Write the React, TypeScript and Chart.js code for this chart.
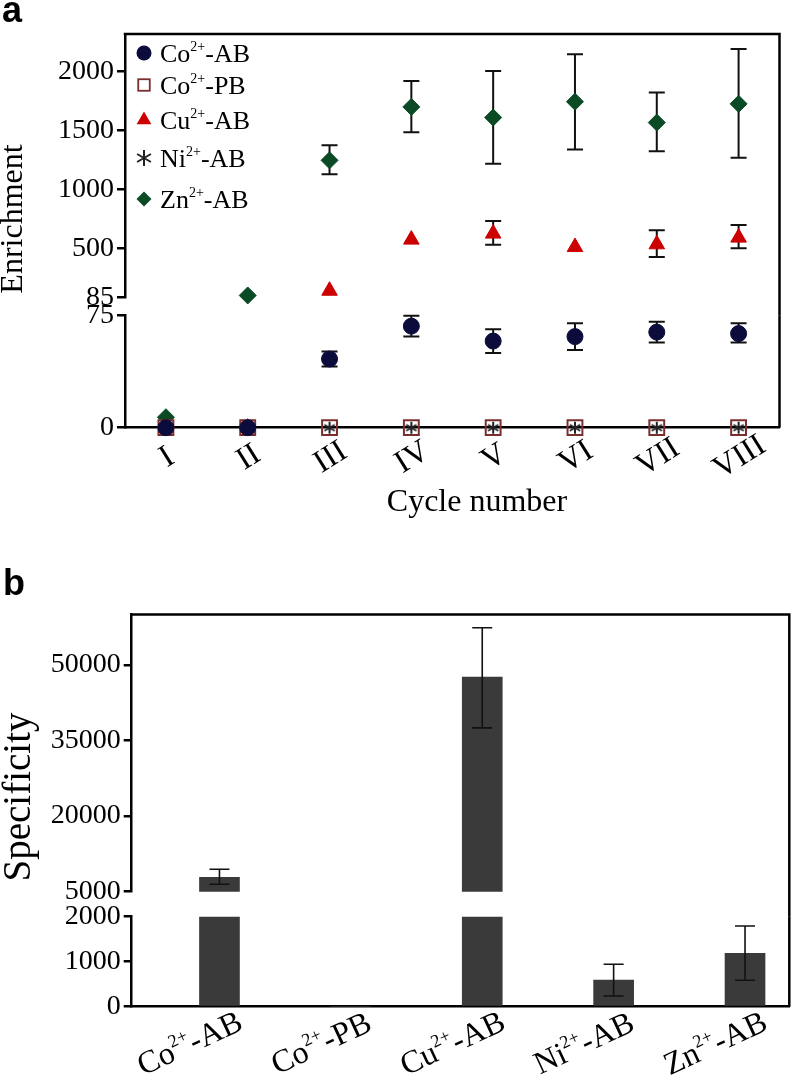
import React, { useEffect, useRef } from 'react';
import { Chart, registerables } from 'chart.js';

Chart.register(...registerables);

// ---------------- DATA ----------------
const CYCLES = ['I', 'II', 'III', 'IV', 'V', 'VI', 'VII', 'VIII'];
const SERIES_NAMES = ['Co2+-AB', 'Co2+-PB', 'Cu2+-AB', 'Ni2+-AB', 'Zn2+-AB'];

const CO_AB = [0, 0, 46, 68, 58, 61, 64, 63];
const CO_AB_LO = [null, null, 41, 61, 50, 52, 57, 57];
const CO_AB_HI = [null, null, 51, 75, 66, 70, 71, 70];
const CO_PB = [0, 0, 0, 0, 0, 0, 0, 0];
const CU_AB = [0, 0, 140, 574, 625, 511, 534, 591];
const CU_AB_LO = [null, null, null, null, 531, null, 426, 500];
const CU_AB_HI = [null, null, null, null, 733, null, 653, 698];
const NI_AB = [0, 0, 0, 0, 0, 0, 0, 0];
const ZN_AB = [7, 100, 1247, 1701, 1611, 1745, 1568, 1727];
const ZN_AB_LO = [null, null, 1128, 1485, 1219, 1340, 1324, 1270];
const ZN_AB_HI = [null, null, 1375, 1920, 2005, 2147, 1824, 2193];

const A_UPPER_TICKS = [85, 500, 1000, 1500, 2000];
const A_LOWER_TICKS = [0, 75];
const A_UPPER_RANGE = [85, 2320];
const A_LOWER_RANGE = [0, 75];

const PROBES = ['Co2+-AB', 'Co2+-PB', 'Cu2+-AB', 'Ni2+-AB', 'Zn2+-AB'];
const SPECIFICITY = [7850, 0, 47570, 593, 1187];
const SPEC_LO = [6470, null, 37500, 238, 587];
const SPEC_HI = [9440, null, 57360, 942, 1793];

const B_UPPER_TICKS = [5000, 20000, 35000, 50000];
const B_LOWER_TICKS = [0, 1000, 2000];
const B_UPPER_RANGE = [5000, 60000];
const B_LOWER_RANGE = [0, 2000];

// ---------------- STYLE ----------------
const SERIF = '"Liberation Serif", "Times New Roman", serif';
const SANS = '"Liberation Sans", Arial, sans-serif';
const W = 792;

type St = { color: string; style: string; radius: number; fill: boolean };
const STYLES: St[] = [
  { color: '#0c0c3c', style: 'circle', radius: 8, fill: true },
  { color: '#7a2e2e', style: 'rect', radius: 10.5, fill: false },
  { color: '#cc0000', style: 'triangle', radius: 9, fill: true },
  { color: '#222222', style: 'asterisk', radius: 6, fill: false },
  { color: '#0a4a24', style: 'rectRot', radius: 8.5, fill: true },
];

function drawMarker(ctx: CanvasRenderingContext2D, st: St, x: number, y: number, r: number) {
  ctx.save();
  ctx.fillStyle = st.color;
  ctx.strokeStyle = st.color;
  ctx.beginPath();
  switch (st.style) {
    case 'circle':
      ctx.arc(x, y, r, 0, Math.PI * 2);
      ctx.fill();
      break;
    case 'rect':
      ctx.lineWidth = 1.8;
      ctx.strokeRect(x - r * 0.72, y - r * 0.72, r * 1.44, r * 1.44);
      break;
    case 'triangle':
      ctx.moveTo(x, y - r);
      ctx.lineTo(x + r * 0.866, y + r * 0.5);
      ctx.lineTo(x - r * 0.866, y + r * 0.5);
      ctx.closePath();
      ctx.fill();
      break;
    case 'rectRot':
      ctx.moveTo(x, y - r);
      ctx.lineTo(x + r, y);
      ctx.lineTo(x, y + r);
      ctx.lineTo(x - r, y);
      ctx.closePath();
      ctx.fill();
      break;
    case 'asterisk':
      ctx.lineWidth = 2;
      for (let k = 0; k < 3; k++) {
        const a = Math.PI / 2 + (k * Math.PI) / 3;
        ctx.moveTo(x - r * Math.cos(a), y - r * Math.sin(a));
        ctx.lineTo(x + r * Math.cos(a), y + r * Math.sin(a));
      }
      ctx.stroke();
      break;
  }
  ctx.restore();
}

function makeAsterisk(st: St) {
  const c = document.createElement('canvas');
  const s = Math.ceil(st.radius * 2 + 4);
  c.width = s;
  c.height = s;
  const ctx = c.getContext('2d') as CanvasRenderingContext2D;
  drawMarker(ctx, st, s / 2, s / 2, st.radius);
  return c;
}

function splitSup(t: string) {
  const m = /^([A-Za-z]+)(\d\+)(.*)$/.exec(t);
  return m ? [m[1], m[2], m[3]] : [t, '', ''];
}
function richWidth(ctx: CanvasRenderingContext2D, t: string, size: number) {
  const [a, s, b] = splitSup(t);
  ctx.font = `${size}px ${SERIF}`;
  const w1 = ctx.measureText(a).width + ctx.measureText(b).width;
  ctx.font = `${Math.round(size * 0.55)}px ${SERIF}`;
  return w1 + ctx.measureText(s).width;
}
function drawRich(ctx: CanvasRenderingContext2D, t: string, x: number, base: number, size: number) {
  const [a, s, b] = splitSup(t);
  ctx.fillStyle = '#000';
  ctx.textAlign = 'left';
  ctx.textBaseline = 'alphabetic';
  ctx.font = `${size}px ${SERIF}`;
  ctx.fillText(a, x, base);
  let cx = x + ctx.measureText(a).width;
  ctx.font = `${Math.round(size * 0.55)}px ${SERIF}`;
  ctx.fillText(s, cx, base - size * 0.42);
  cx += ctx.measureText(s).width;
  ctx.font = `${size}px ${SERIF}`;
  ctx.fillText(b, cx, base);
}

// ---------------- PLUGINS ----------------
const framePlugin = {
  id: 'frame',
  afterDraw(chart: any, _a: any, opts: any) {
    if (!opts || !opts.enabled) return;
    const { ctx, chartArea: a } = chart;
    ctx.save();
    ctx.strokeStyle = '#000';
    ctx.lineWidth = 2.5;
    ctx.beginPath();
    if (opts.top) {
      ctx.moveTo(a.left - 1.25, a.top);
      ctx.lineTo(a.right + 1.25, a.top);
    }
    ctx.moveTo(a.right, a.top);
    ctx.lineTo(a.right, a.bottom + (opts.extend || 0));
    ctx.stroke();
    ctx.restore();
  },
};

function drawErrors(chart: any, opts: any) {
  const { ctx } = chart;
  const xs = chart.scales.x;
  const ys = chart.scales.y;
  ctx.save();
  ctx.strokeStyle = '#111';
  ctx.lineWidth = opts.width || 2;
  chart.data.datasets.forEach((ds: any) => {
    const lo = ds.errLo;
    const hi = ds.errHi;
    if (!lo) return;
    ds.data.forEach((d: any, i: number) => {
      const v = d !== null && typeof d === 'object' ? d.y : d;
      if (v === null || v === undefined || lo[i] === null || hi[i] === null) return;
      const xv = d !== null && typeof d === 'object' ? d.x : i;
      const px = xs.getPixelForValue(xv);
      const yl = ys.getPixelForValue(lo[i]);
      const yh = ys.getPixelForValue(hi[i]);
      const c = opts.cap || 8;
      ctx.beginPath();
      ctx.moveTo(px, yl);
      ctx.lineTo(px, yh);
      ctx.moveTo(px - c, yl);
      ctx.lineTo(px + c, yl);
      ctx.moveTo(px - c, yh);
      ctx.lineTo(px + c, yh);
      ctx.stroke();
    });
  });
  ctx.restore();
}

const errPlugin = {
  id: 'errbars',
  beforeDatasetsDraw(chart: any, _a: any, opts: any) {
    if (opts && opts.phase === 'before') drawErrors(chart, opts);
  },
  afterDatasetsDraw(chart: any, _a: any, opts: any) {
    if (opts && opts.phase === 'after') drawErrors(chart, opts);
  },
};

const decorPlugin = {
  id: 'decor',
  afterDraw(chart: any, _a: any, opts: any) {
    if (!opts) return;
    const ctx: CanvasRenderingContext2D = chart.ctx;
    (opts.texts || []).forEach((t: any) => {
      ctx.save();
      ctx.translate(t.x, t.y);
      ctx.rotate(((t.rot || 0) * Math.PI) / 180);
      ctx.font = t.font;
      ctx.fillStyle = '#000';
      ctx.textAlign = t.align || 'center';
      ctx.textBaseline = t.baseline || 'middle';
      ctx.fillText(t.text, 0, 0);
      ctx.restore();
    });
    if (opts.xlabels) {
      const { labels, dx, dy, rot, size, values } = opts.xlabels;
      labels.forEach((lab: string, i: number) => {
        const px = chart.scales.x.getPixelForValue(values ? values[i] : i) + dx;
        const py = chart.chartArea.bottom + dy;
        ctx.save();
        ctx.translate(px, py);
        ctx.rotate((rot * Math.PI) / 180);
        const w = richWidth(ctx, lab, size);
        drawRich(ctx, lab, -w / 2, size * 0.33, size);
        ctx.restore();
      });
    }
    if (opts.legend) {
      const { items, rows, mx, tx, size, radii } = opts.legend;
      items.forEach((name: string, i: number) => {
        drawMarker(ctx, STYLES[i], mx, rows[i], radii[i]);
        ctx.save();
        drawRich(ctx, name, tx, rows[i] + size * 0.33, size);
        ctx.restore();
      });
    }
  },
};

// ---------------- CONFIG HELPERS ----------------
function yAxis(range: number[], ticks: number[], width: number) {
  return {
    type: 'linear',
    min: range[0],
    max: range[1],
    afterBuildTicks: (s: any) => {
      s.ticks = ticks.map((v) => ({ value: v }));
    },
    afterFit: (s: any) => {
      s.width = width;
    },
    ticks: {
      callback: (v: any) => String(v),
      color: '#000',
      font: { family: SERIF, size: 28 },
      padding: 3,
    },
    grid: {
      display: true,
      drawOnChartArea: false,
      drawTicks: true,
      tickLength: 8,
      color: '#000',
      lineWidth: 2.5,
    },
    border: { display: true, color: '#000', width: 2.5 },
  };
}

function panelAConfig(upper: boolean, asterisk: HTMLCanvasElement) {
  const range = upper ? A_UPPER_RANGE : A_LOWER_RANGE;
  const inRange = (v: number) => v >= range[0] && v <= range[1];
  const series = [
    [CO_AB, CO_AB_LO, CO_AB_HI],
    [CO_PB, null, null],
    [CU_AB, CU_AB_LO, CU_AB_HI],
    [NI_AB, null, null],
    [ZN_AB, ZN_AB_LO, ZN_AB_HI],
  ];
  const datasets = series.map(([vals, lo, hi]: any, i) => {
    const st = STYLES[i];
    return {
      label: SERIES_NAMES[i],
      data: vals.map((v: number) => (inRange(v) ? v : null)),
      errLo: lo,
      errHi: hi,
      showLine: false,
      pointStyle: st.style === 'asterisk' ? asterisk : st.style,
      pointRadius: st.radius,
      pointBackgroundColor: st.fill ? st.color : 'rgba(0,0,0,0)',
      pointBorderColor: st.color,
      pointBorderWidth: st.fill ? 1 : 2,
      clip: false,
    };
  });
  const texts = upper
    ? [
        { text: 'a', x: 2, y: 22, font: `bold 36px ${SANS}`, align: 'left', baseline: 'alphabetic' },
        { text: 'Enrichment', x: 14, y: 219, rot: -90, font: `32px ${SERIF}` },
      ]
    : [{ text: 'Cycle number', x: 477, y: 213, font: `32px ${SERIF}` }];
  return {
    type: 'line',
    data: { labels: CYCLES, datasets },
    plugins: [errPlugin, framePlugin, decorPlugin],
    options: {
      responsive: false,
      maintainAspectRatio: false,
      animation: false,
      events: [],
      layout: { padding: upper ? { top: 34, bottom: 32.8, left: 0, right: 5 } : { top: 25.7, bottom: 0, left: 0, right: 5 } },
      scales: {
        x: {
          type: 'category',
          offset: true,
          display: !upper,
          grid: { display: false, drawTicks: false },
          border: { display: true, color: '#000', width: 2.5 },
          ticks: { display: false },
          afterFit: (s: any) => {
            s.height = upper ? 0 : 102.3;
          },
        },
        y: yAxis(range, upper ? A_UPPER_TICKS : A_LOWER_TICKS, 125),
      },
      plugins: {
        legend: { display: false },
        tooltip: { enabled: false },
        errbars: { phase: 'before', cap: 8, width: 2 },
        frame: { enabled: true, top: upper, extend: upper ? 18.5 : 0 },
        decor: upper
          ? { texts, legend: { items: SERIES_NAMES, rows: [53, 85, 120, 158, 199], mx: 144, tx: 160, size: 26, radii: [7.5, 8, 8.5, 8, 7.5] } }
          : { texts, xlabels: { labels: CYCLES, dx: 0, dy: 28, rot: -32, size: 32 } },
      },
    },
  };
}

function panelBConfig(upper: boolean) {
  const range = upper ? B_UPPER_RANGE : B_LOWER_RANGE;
  const xs = PROBES.map((_, i) => i + 1);
  const data = SPECIFICITY.map((v, i) => ({ x: xs[i], y: upper ? (v > range[0] ? v : null) : v }));
  const texts = upper
    ? [
        { text: 'b', x: 3, y: 35, font: `bold 36px ${SANS}`, align: 'left', baseline: 'alphabetic' },
        { text: 'Specificity', x: 20, y: 237, rot: -90, font: `39px ${SERIF}` },
      ]
    : [];
  return {
    type: 'bar',
    data: {
      datasets: [
        {
          label: 'Specificity',
          data,
          errLo: SPEC_LO,
          errHi: SPEC_HI,
          backgroundColor: '#3b3a3b',
          barThickness: 40,
          clip: 0,
        },
      ],
    },
    plugins: [errPlugin, framePlugin, decorPlugin],
    options: {
      responsive: false,
      maintainAspectRatio: false,
      animation: false,
      events: [],
      layout: { padding: upper ? { top: 54.5, bottom: 28.3, left: 0, right: 2.7 } : { top: 36.7, bottom: 0, left: 0, right: 2.7 } },
      scales: {
        x: {
          type: 'linear',
          min: 0.332,
          max: 5.337,
          offset: false,
          display: !upper,
          grid: { display: false, drawTicks: false },
          border: { display: true, color: '#000', width: 2.5 },
          ticks: { display: false },
          afterFit: (s: any) => {
            s.height = upper ? 0 : 71.3;
          },
        },
        y: yAxis(range, upper ? B_UPPER_TICKS : B_LOWER_TICKS, 131.7),
      },
      plugins: {
        legend: { display: false },
        tooltip: { enabled: false },
        errbars: { phase: 'after', cap: 10, width: 1.6 },
        frame: { enabled: true, top: upper, extend: upper ? 25 : 0 },
        decor: upper ? { texts } : { texts, xlabels: { labels: PROBES, values: xs, dx: -30, dy: 36, rot: -25, size: 32 } },
      },
    },
  };
}

// ---------------- COMPONENTS ----------------
function ChartCanvas({ top, height, make }: { top: number; height: number; make: () => any }) {
  const ref = useRef<HTMLCanvasElement | null>(null);
  useEffect(() => {
    if (!ref.current) return;
    const chart = new Chart(ref.current, make());
    return () => chart.destroy();
  }, []);
  return (
    <canvas
      ref={ref}
      width={W}
      height={height}
      style={{ position: 'absolute', left: 0, top, width: W, height }}
    />
  );
}

export default function App() {
  const asteriskRef = useRef<HTMLCanvasElement | null>(null);
  const getAsterisk = () => {
    if (!asteriskRef.current) asteriskRef.current = makeAsterisk(STYLES[3]);
    return asteriskRef.current;
  };
  return (
    <div style={{ position: 'absolute', left: 0, top: 0, width: W, height: 1078, background: '#fff' }}>
      <ChartCanvas top={0} height={330} make={() => panelAConfig(true, getAsterisk())} />
      <ChartCanvas top={290} height={240} make={() => panelAConfig(false, getAsterisk())} />
      <ChartCanvas top={560} height={360} make={() => panelBConfig(true)} />
      <ChartCanvas top={880} height={198} make={() => panelBConfig(false)} />
    </div>
  );
}
